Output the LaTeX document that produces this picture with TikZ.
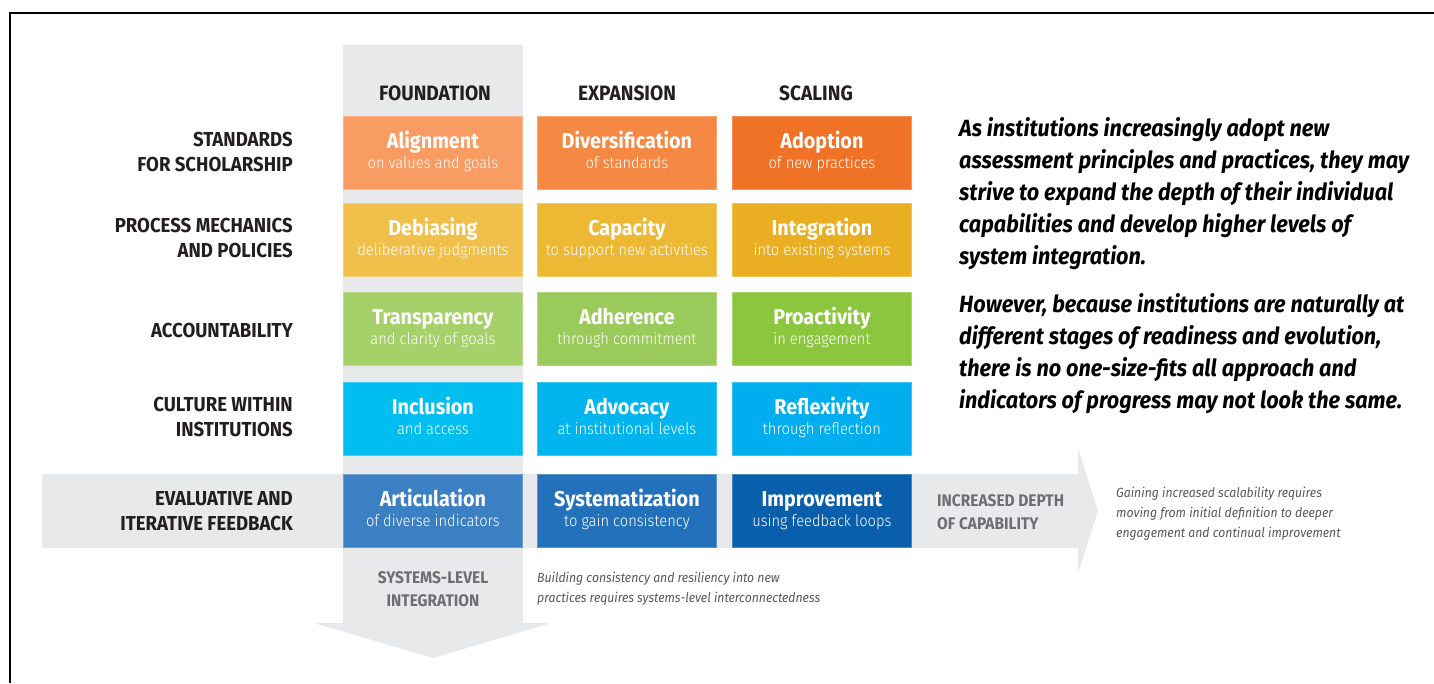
\documentclass[tikz,border=0pt]{standalone}
\usepackage{fontspec}
\setmainfont{Fira Sans}[FakeStretch=0.92]
\newfontfamily\lightfont{Fira Sans Light}[FakeStretch=0.92]
\definecolor{ink}{HTML}{231F20}
\definecolor{band}{HTML}{E8E9EB}
\definecolor{greytext}{HTML}{6D6E71}
\definecolor{notetext}{HTML}{58595B}
\definecolor{orA}{HTML}{F89C64}
\definecolor{orB}{HTML}{F58842}
\definecolor{orC}{HTML}{F07226}
\definecolor{yeA}{HTML}{F0C04A}
\definecolor{yeB}{HTML}{EDB935}
\definecolor{yeC}{HTML}{EAAE22}
\definecolor{grA}{HTML}{A6D06A}
\definecolor{grB}{HTML}{9ACA5A}
\definecolor{grC}{HTML}{8CC63F}
\definecolor{cyA}{HTML}{00BFF0}
\definecolor{cyB}{HTML}{00B5EE}
\definecolor{cyC}{HTML}{00AEEF}
\definecolor{blA}{HTML}{3B80C3}
\definecolor{blB}{HTML}{2371BA}
\definecolor{blC}{HTML}{0A5FAC}
% title line in bold, description line below it; phantoms keep every cell's lines at the same height
\newcommand\celltext[2]{{\fontsize{21.5}{20}\selectfont\bfseries #1\vphantom{Ajg}}\\{\lightfont #2\vphantom{Ajg}}}
\tikzset{
  cell/.style={fill=#1, draw=#1!75!white, line width=0.8pt, minimum width=179pt, minimum height=73pt,
    inner sep=0pt, align=center, text=white, anchor=north west,
    font=\fontsize{16}{20.5}\selectfont},
  celltxt/.style={inner sep=0pt, align=center, text=white, font=\fontsize{16}{20.5}\selectfont},
  rowlabel/.style={anchor=east, align=right, inner sep=0pt, text=ink, font=\fontsize{20.2}{25}\selectfont\bfseries},
  colhead/.style={anchor=center, text=ink, font=\fontsize{20.8}{22}\selectfont\bfseries},
  greylabel/.style={text=greytext, font=\fontsize{16.8}{23}\selectfont\bfseries},
  note/.style={text=notetext, anchor=north west, align=left, inner sep=0pt, font=\fontsize{13.3}{20}\selectfont\itshape},
}
\newcommand\cell[5]{% name, colour, x, y, title/description
  \node[cell=#2] (#1) at (#3,#4) {};
  \node[celltxt] (#1t) at ([yshift=1.5pt]#1.center) {#5};}
\begin{document}
\begin{tikzpicture}[x=1pt,y=-1pt]
\useasboundingbox (0,0) rectangle (1434,683);
\fill[white] (0,0) rectangle (1434,683);
% frame
\draw[line width=1.4pt, black] (10,683) -- (10,13) -- (1434,13);

% horizontal band: increasing depth of capability
\fill[band] (42,474) -- (1078,474) -- (1078,448) -- (1098,511) -- (1078,573) -- (1078,548) -- (42,548) -- cycle;
% vertical band: systems-level integration
\fill[band] (343,45) -- (523,45) -- (523,623) -- (551,623) -- (433,658) -- (314,623) -- (343,623) -- cycle;

% column headings
\node[colhead] (hF) at (435,93) {FOUNDATION};
\node[colhead] (hE) at (627,93) {EXPANSION};
\node[colhead] (hS) at (816,93) {SCALING};

% row labels
\node[rowlabel] (r1) at (293,152) {STANDARDS\\FOR SCHOLARSHIP};
\node[rowlabel] (r2) at (293,238) {PROCESS MECHANICS\\AND POLICIES};
\node[rowlabel] (r3) at (293,330) {ACCOUNTABILITY};
\node[rowlabel] (r4) at (293,417) {CULTURE WITHIN\\INSTITUTIONS};
\node[rowlabel] (r5) at (293,511) {EVALUATIVE AND\\ITERATIVE FEEDBACK};

% cells
\cell{c11}{orA}{343}{116}{\celltext{Alignment}{on values and goals}}
\cell{c12}{orB}{537}{116}{\celltext{Diversification}{of standards}}
\cell{c13}{orC}{732}{116}{\celltext{Adoption}{of new practices}}

\cell{c21}{yeA}{343}{203}{\celltext{Debiasing}{deliberative judgments}}
\cell{c22}{yeB}{537}{203}{\celltext{Capacity}{to support new activities}}
\cell{c23}{yeC}{732}{203}{\celltext{Integration}{into existing systems}}

\cell{c31}{grA}{343}{292}{\celltext{Transparency}{and clarity of goals}}
\cell{c32}{grB}{537}{292}{\celltext{Adherence}{through commitment}}
\cell{c33}{grC}{732}{292}{\celltext{Proactivity}{in engagement}}

\cell{c41}{cyA}{343}{382}{\celltext{Inclusion}{and access}}
\cell{c42}{cyB}{537}{382}{\celltext{Advocacy}{at institutional levels}}
\cell{c43}{cyC}{732}{382}{\celltext{Reflexivity}{through reflection}}

\cell{c51}{blA}{343}{474}{\celltext{Articulation}{of diverse indicators}}
\cell{c52}{blB}{537}{474}{\celltext{Systematization}{to gain consistency}}
\cell{c53}{blC}{732}{474}{\celltext{Improvement}{using feedback loops}}

% band labels and notes
\node[greylabel, anchor=west, align=left, inner sep=0pt] (depth) at (937,512) {INCREASED DEPTH\\OF CAPABILITY};
\node[greylabel, anchor=center, align=center] (sysint) at (433,589) {SYSTEMS-LEVEL\\INTEGRATION};
\node[note] (noteH) at (1116,487) {Gaining increased scalability requires\\moving from initial definition to deeper\\engagement and continual improvement};
\node[note] (noteV) at (537,572) {Building consistency and resiliency into new\\practices requires systems-level interconnectedness};

% explanatory paragraph
\node[anchor=north west, align=left, inner sep=0pt, text=black,
      font=\fontsize{23.5}{32}\selectfont\bfseries\itshape] (para) at (959,117)
 {As institutions increasingly adopt new\\
  assessment principles and practices, they may\\
  strive to expand the depth of their individual\\
  capabilities and develop higher levels of\\
  system integration.\\[16pt]
  However, because institutions are naturally at\\
  different stages of readiness and evolution,\\
  there is no one-size-fits all approach and\\
  indicators of progress may not look the same.};
\end{tikzpicture}
\end{document}
